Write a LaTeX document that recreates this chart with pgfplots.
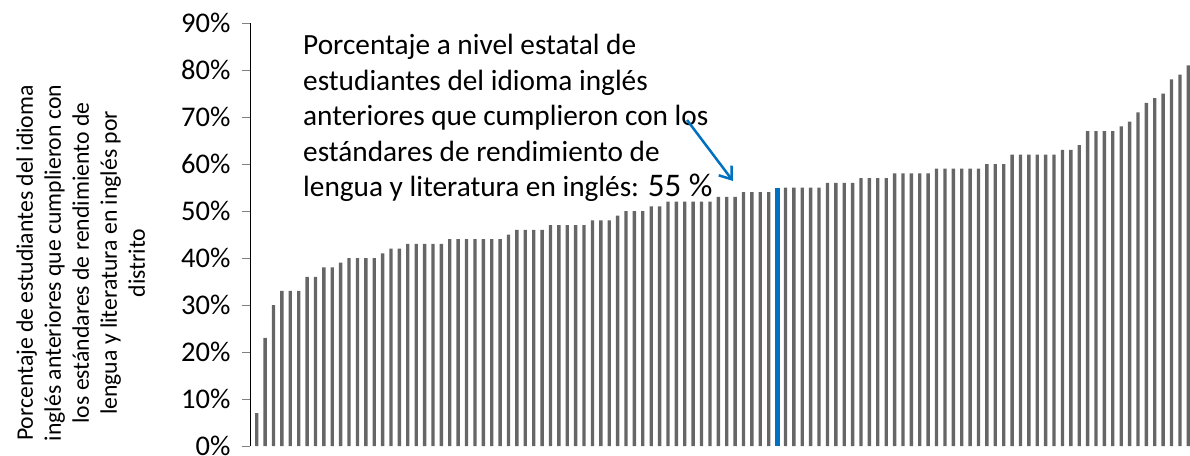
\documentclass[border=0pt]{standalone}
\usepackage{pgfplots}
\pgfplotsset{compat=1.18}
\usepackage{fontspec}
\setmainfont{Carlito}
\usetikzlibrary{arrows.meta}
\definecolor{bargray}{HTML}{666666}
\definecolor{stateblue}{HTML}{0070C0}

\begin{document}
\begin{tikzpicture}
    \path[use as bounding box] (-250pt,-9pt) rectangle (940pt,446pt);
    \begin{axis}[
        at={(0pt,0pt)}, anchor=south west,
        scale only axis,
        width=940pt, height=423pt,
        xmin=-0.8, xmax=111.2,
        ymin=0, ymax=90,
        axis x line=none,
        axis y line*=left,
        ytick={0,10,...,90},
        tick align=outside,
        major tick length=8pt,
        y axis line style={line width=0.9pt},
        ytick style={line width=0.9pt},
        yticklabel={\pgfmathprintnumber[assume math mode=true]{\tick}\%},
        yticklabel style={font=\fontsize{28.5}{34}\selectfont, xshift=-8pt},
        ybar, bar shift=0pt,
        clip=false,
        ]
    % distritos, ordenados (porcentaje)
    \addplot[fill=bargray, draw=none, bar width=0.4] coordinates {
        (0,7) (1,23) (2,30) (3,33) (4,33) (5,33) (6,36) (7,36) (8,38) (9,38)
        (10,39) (11,40) (12,40) (13,40) (14,40) (15,41) (16,42) (17,42) (18,43) (19,43)
        (20,43) (21,43) (22,43) (23,44) (24,44) (25,44) (26,44) (27,44) (28,44) (29,44)
        (30,45) (31,46) (32,46) (33,46) (34,46) (35,47) (36,47) (37,47) (38,47) (39,47)
        (40,48) (41,48) (42,48) (43,49) (44,50) (45,50) (46,50) (47,51) (48,51) (49,52)
        (50,52) (51,52) (52,52) (53,52) (54,52) (55,53) (56,53) (57,53) (58,54) (59,54)
        (60,54) (61,54) (63,55) (64,55) (65,55) (66,55) (67,55) (68,56) (69,56)
        (70,56) (71,56) (72,57) (73,57) (74,57) (75,57) (76,58) (77,58) (78,58) (79,58)
        (80,58) (81,59) (82,59) (83,59) (84,59) (85,59) (86,59) (87,60) (88,60) (89,60)
        (90,62) (91,62) (92,62) (93,62) (94,62) (95,62) (96,63) (97,63) (98,64) (99,67)
        (100,67) (101,67) (102,67) (103,68) (104,69) (105,71) (106,73) (107,74) (108,75) (109,78)
        (110,79) (111,81)
    };
    % nivel estatal
    \addplot[fill=stateblue, draw=none, bar width=0.6] coordinates {(62,55)};
    \end{axis}

    % etiqueta del eje y
    \begin{scope}[every node/.style={rotate=90, anchor=base, inner sep=0pt,
            font=\fontsize{23.7}{28}\selectfont}]
        \node at (-217pt,183pt) {Porcentaje de estudiantes del idioma};
        \node at (-189pt,183pt) {inglés anteriores que cumplieron con};
        \node at (-161pt,183pt) {los estándares de rendimiento de};
        \node at (-133pt,183pt) {lengua y literatura en inglés por};
        \node at (-105pt,183pt) {distrito};
    \end{scope}

    % anotación
    \begin{scope}[every node/.style={anchor=base west, inner sep=0pt,
            font=\fontsize{29.3}{35}\selectfont}]
        \node at (53pt,391pt) {Porcentaje a nivel estatal de};
        \node at (53pt,355.6pt) {estudiantes del idioma inglés};
        \node at (53pt,320.2pt) {anteriores que cumplieron con los};
        \node at (53pt,284.8pt) {estándares de rendimiento de};
        \node at (53pt,249.4pt) {lengua y literatura en inglés: {\fontsize{33}{40}\selectfont 55~\%}};
    \end{scope}
    \draw[stateblue, line width=2.5pt, -{Straight Barb[length=11pt,width=16pt]}]
        (437pt,326pt) -- (483pt,265pt);
\end{tikzpicture}
\end{document}
